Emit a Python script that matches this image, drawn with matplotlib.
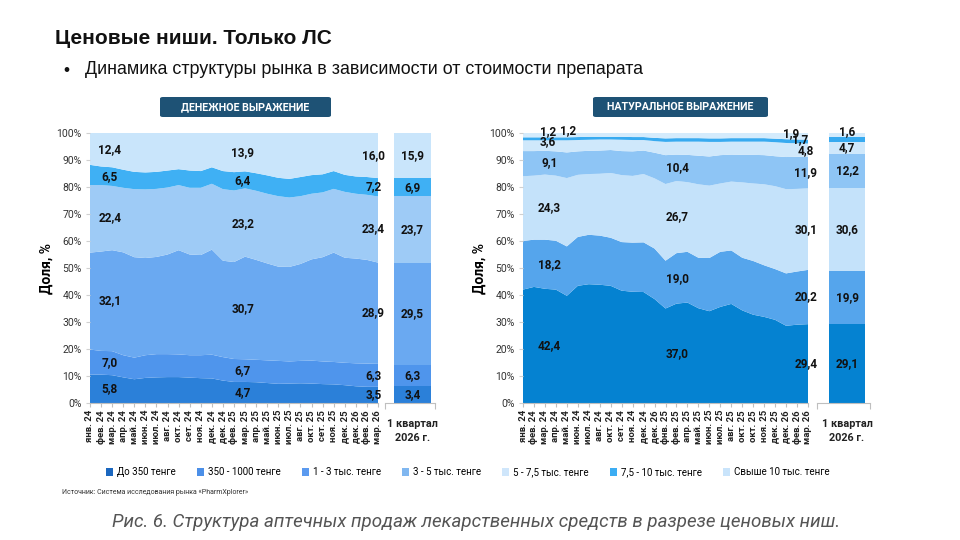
import numpy as np
import matplotlib
matplotlib.use("Agg")
import matplotlib.pyplot as plt
from matplotlib.patches import Patch, FancyBboxPatch

plt.rcParams['font.family'] = ['Roboto', 'DejaVu Sans']

# ---- data ----
series = ["До 350 тенге", "350 - 1000 тенге", "1 - 3 тыс. тенге", "3 - 5 тыс. тенге",
          "5 - 7,5 тыс. тенге", "7,5 - 10 тыс. тенге", "Свыше 10 тыс. тенге"]

den_months = ['янв. 24', 'фев. 24', 'мар. 24', 'апр. 24', 'май. 24', 'июн. 24', 'июл. 24',
              'авг. 24', 'окт. 24', 'сет. 24', 'ноя. 24', 'дек. 24', 'дек. 24', 'фев. 25',
              'мар. 25', 'апр. 25', 'май. 25', 'июн. 25', 'июл. 25', 'авг. 25', 'окт. 25',
              'сет. 25', 'ноя. 25', 'дек. 25', 'дек. 26', 'фев. 26', 'мар. 26']
nat_months = ['янв. 24', 'фев. 24', 'мар. 24', 'апр. 24', 'май. 24', 'июн. 24', 'июл. 24',
              'авг. 24', 'окт. 24', 'сет. 24', 'ноя. 24', 'дек. 24', 'дек. 26', 'фнв. 25',
              'фев. 25', 'апр. 25', 'май. 25', 'июн. 25', 'июл. 25', 'авг. 25', 'окт. 25',
              'окт. 25', 'ноя. 25', 'дек. 25', 'дек. 26', 'фев. 26', 'мар. 26']
quarter_label = "1 квартал\n2026 г."

# upper edge (cumulative %) of each layer, money terms (6 layers drawn)
den_edges = [
    [10.5, 10.5, 10.3, 9.5, 8.8, 9.3, 9.5, 9.6, 9.6, 9.4, 9.2, 9.1, 8.3, 7.8, 7.8, 7.7, 7.4,
     7.1, 7.2, 7.3, 7.2, 7.0, 6.9, 6.6, 6.2, 6.0, 6.0],
    [19.8, 19.3, 19.2, 17.7, 16.8, 17.7, 18.1, 18.1, 18.0, 17.7, 17.7, 17.9, 17.0, 16.3, 16.2,
     16.0, 15.8, 15.6, 15.4, 15.6, 15.7, 15.4, 15.2, 14.9, 14.7, 14.6, 14.5],
    [55.7, 56.1, 56.6, 55.8, 54.0, 53.7, 54.1, 55.0, 56.6, 55.0, 54.8, 56.8, 52.7, 52.2, 54.2,
     53.0, 51.7, 50.5, 50.4, 51.5, 53.2, 54.0, 55.7, 53.8, 53.5, 53.0, 52.0],
    [80.7, 80.7, 80.4, 79.7, 79.2, 79.1, 79.3, 79.8, 80.7, 79.7, 79.7, 81.2, 79.2, 78.7, 79.5,
     78.6, 77.5, 76.6, 76.1, 76.6, 77.5, 78.0, 79.3, 78.2, 77.5, 77.1, 76.5],
    [88.2, 87.6, 87.3, 86.4, 85.6, 85.4, 85.6, 86.1, 86.6, 86.1, 85.9, 87.3, 85.9, 85.5, 85.8,
     85.1, 84.3, 83.4, 83.0, 83.7, 84.4, 84.7, 85.9, 84.5, 83.9, 83.7, 83.3],
    [100.0] * 27,
]
den_q_edges = [6.4, 14.2, 52.0, 76.5, 83.3, 100.0]

# upper edge (cumulative %) of each layer, volume terms (7 layers)
nat_edges = [
    [42.0, 43.0, 42.3, 42.0, 39.7, 43.4, 44.0, 43.8, 43.4, 41.6, 41.2, 41.1, 38.5, 35.0, 36.8,
     37.2, 35.1, 34.0, 35.6, 36.7, 34.3, 32.7, 31.9, 30.8, 28.6, 29.0, 29.2],
    [60.0, 60.5, 60.5, 60.1, 58.0, 61.5, 62.3, 62.0, 61.2, 59.6, 59.4, 59.5, 57.2, 52.7, 55.5,
     56.0, 53.8, 53.7, 56.0, 56.5, 53.8, 52.6, 51.0, 49.6, 48.0, 48.7, 49.3],
    [84.0, 84.2, 84.6, 84.2, 83.3, 84.5, 84.8, 84.9, 85.2, 84.4, 84.1, 84.8, 83.2, 81.1, 82.2,
     81.8, 81.0, 80.5, 81.3, 82.0, 81.7, 81.3, 81.0, 80.3, 79.2, 79.3, 79.5],
    [93.3, 93.3, 93.4, 93.2, 92.8, 93.2, 93.4, 93.5, 93.7, 93.3, 93.2, 93.5, 92.7, 91.8, 92.0,
     91.9, 91.6, 91.3, 91.8, 92.0, 91.9, 91.9, 91.8, 91.4, 91.1, 91.2, 91.2],
    [97.3, 97.3, 97.3, 97.3, 97.3, 97.4, 97.5, 97.6, 97.6, 97.5, 97.4, 97.4, 97.0, 96.7, 96.8,
     96.8, 96.8, 96.7, 96.7, 96.8, 96.8, 96.8, 96.8, 96.6, 96.3, 96.2, 96.1],
    [98.4, 98.4, 98.4, 98.4, 98.4, 98.5, 98.6, 98.6, 98.6, 98.6, 98.5, 98.5, 98.2, 98.0, 98.1,
     98.1, 98.1, 98.0, 98.0, 98.1, 98.1, 98.1, 98.1, 97.9, 97.7, 97.6, 97.5],
    [100.0] * 27,
]
nat_q_edges = [29.3, 49.0, 79.8, 92.4, 96.8, 98.4, 100.0]

# value labels written on the chart
den_lbl_start = [5.8, 7.0, 32.1, 22.4, 6.5, 12.4]
den_lbl_mid = [4.7, 6.7, 30.7, 23.2, 6.4, 13.9]
den_lbl_end = [3.5, 6.3, 28.9, 23.4, 7.2, 16.0]
den_lbl_q = [3.4, 6.3, 29.5, 23.7, 6.9, 15.9]

nat_lbl_start = [42.4, 18.2, 24.3, 9.1, 3.6, 1.2, 1.2]
nat_lbl_mid = [37.0, 19.0, 26.7, 10.4]
nat_lbl_end = [29.4, 20.2, 30.1, 11.9, 4.8, 1.7, 1.9]
nat_lbl_q = [29.1, 19.9, 30.6, 12.2, 4.7, 1.6]

# ---- styling ----
den_colors = ['#2b80d9', '#4f95ec', '#6aa9f1', '#9ecbf6', '#3fb0f4', '#c9e5fb']
nat_colors = ['#0582d1', '#55a5ec', '#c4e2fa', '#8ec5f5', '#cfe8fb', '#37aaf0', '#d4ebfc']
legend_colors = ['#1b67bf', '#4b8fe8', '#5b9aef', '#80b7f0', '#cfe6fb', '#3cadf3', '#c9e4fb']
spine_c = '#bfbfbf'
lbl_kw = dict(fontsize=8.5, fontweight='bold', color='#111111', ha='center', va='center')


def fmt(v):
    return f"{v:.1f}".replace('.', ',')


def mids(edges, x):
    e = np.array(edges)
    x_idx = np.arange(e.shape[1])
    tops = np.array([np.interp(x, x_idx, row) for row in e])
    bots = np.concatenate([[0], tops[:-1]])
    return (tops + bots) / 2


def main_axes(rect, edges, colors, months):
    ax = fig.add_axes(rect)
    e = np.array(edges)
    shares = np.diff(np.vstack([np.zeros(e.shape[1]), e]), axis=0)
    x = np.arange(e.shape[1])
    ax.stackplot(x, shares, colors=colors, linewidth=0)
    ax.set_xlim(0, len(x) - 1)
    ax.set_ylim(0, 100)
    ax.set_xticks(x)
    ax.set_xticklabels(months, rotation=90, fontsize=6.8, fontweight='bold', color='#222222')
    ax.set_yticks(np.arange(0, 101, 10))
    ax.set_yticklabels([f"{v}%" for v in range(0, 101, 10)], fontsize=7.5, color='#333333')
    for s in ['top', 'right', 'left']:
        ax.spines[s].set_visible(False)
    ax.spines['bottom'].set_color(spine_c)
    ax.tick_params(axis='x', length=3, color=spine_c, pad=2)
    ax.tick_params(axis='y', length=3, color='#d0d0d0', pad=3)
    ax.set_ylabel("Доля, %", fontsize=10, fontweight='bold', labelpad=2)
    return ax


def quarter_axes(rect, edges, colors, xlim):
    ax = fig.add_axes(rect)
    e = np.array(edges)
    shares = np.diff(np.concatenate([[0], e]))
    bottom = 0
    for s, c in zip(shares, colors):
        ax.bar(0, s, bottom=bottom, width=1.0, color=c, linewidth=0)
        bottom += s
    ax.set_xlim(*xlim)
    ax.set_ylim(0, 100)
    ax.set_xticks(list(xlim))
    ax.set_xticklabels(['', ''])
    ax.set_yticks([])
    for s in ['top', 'right', 'left']:
        ax.spines[s].set_visible(False)
    ax.spines['bottom'].set_color(spine_c)
    ax.tick_params(axis='x', length=4, color=spine_c)
    ax.text(0, -6, quarter_label, fontsize=7.8, fontweight='bold', ha='center', va='top',
            linespacing=1.5, color='#222222')
    return ax


fig = plt.figure(figsize=(9.6, 5.4), dpi=100)

# ---- money terms ----
ax1 = main_axes([90 / 960, 1 - 403 / 540, 288 / 960, 270 / 540], den_edges, den_colors, den_months)
for xpos, vals in [(1.8, den_lbl_start), (13.8, den_lbl_mid), (25.6, den_lbl_end)]:
    ys = mids(den_edges, min(xpos, 26))
    for v, y in zip(vals, ys):
        ax1.text(xpos, y, fmt(v), **lbl_kw)

aq1 = quarter_axes([385 / 960, 1 - 403 / 540, 50 / 960, 270 / 540], den_q_edges, den_colors,
                   (-0.743, 0.608))
qm = mids([[v] for v in den_q_edges], 0)
for v, y in zip(den_lbl_q, qm):
    aq1.text(0, y, fmt(v), **lbl_kw)

# ---- volume terms ----
ax2 = main_axes([523 / 960, 1 - 403 / 540, 285 / 960, 270 / 540], nat_edges, nat_colors, nat_months)
ys = mids(nat_edges, 2.4)
for v, y in zip(nat_lbl_start[:4], ys[:4]):
    ax2.text(2.4, y, fmt(v), **lbl_kw)
small_start = [(2.3, 96.9), (2.3, 100.4), (4.1, 100.8)]
for v, (xp, yp) in zip(nat_lbl_start[4:], small_start):
    ax2.text(xp, yp, fmt(v), clip_on=False, **lbl_kw)
ys = mids(nat_edges, 14.1)
for v, y in zip(nat_lbl_mid, ys[:4]):
    ax2.text(14.1, y, fmt(v), **lbl_kw)
ys = mids(nat_edges, 26)
for v, y in zip(nat_lbl_end[:5], ys[:5]):
    ax2.text(25.8, y, fmt(v), **lbl_kw)
small_end = [(25.3, 97.4), (24.5, 99.9)]
for v, (xp, yp) in zip(nat_lbl_end[5:], small_end):
    ax2.text(xp, yp, fmt(v), clip_on=False, **lbl_kw)

aq2 = quarter_axes([817 / 960, 1 - 403 / 540, 53 / 960, 270 / 540], nat_q_edges, nat_colors,
                   (-0.857, 0.657))
qm = mids([[v] for v in nat_q_edges], 0)
for v, y in zip(nat_lbl_q[:5], qm[:5]):
    aq2.text(0, y, fmt(v), **lbl_kw)
aq2.text(0, 100.4, fmt(nat_lbl_q[5]), clip_on=False, **lbl_kw)

# ---- header texts ----
fig.text(55 / 960, 1 - 38 / 540, "Ценовые ниши. Только ЛС", fontsize=15, fontweight='bold',
         family=['Liberation Sans', 'DejaVu Sans'], va='center', ha='left', color='#111111')
fig.text(63 / 960, 1 - 70 / 540, "•", fontsize=12.5, family=['Liberation Sans', 'DejaVu Sans'],
         va='center', ha='left', color='#111111')
fig.text(85 / 960, 1 - 70 / 540, "Динамика структуры рынка в зависимости от стоимости препарата",
         fontsize=12.9, family=['Liberation Sans', 'DejaVu Sans'], va='center', ha='left',
         color='#111111')

for x0, x1, txt in [(160, 331, "ДЕНЕЖНОЕ ВЫРАЖЕНИЕ"), (593, 768, "НАТУРАЛЬНОЕ ВЫРАЖЕНИЕ")]:
    box = FancyBboxPatch((x0 / 960, 1 - 117 / 540), (x1 - x0) / 960, 20 / 540,
                         boxstyle="round,pad=0,rounding_size=0.003", transform=fig.transFigure,
                         facecolor='#1e5275', edgecolor='none')
    fig.patches.append(box)
    fig.text((x0 + x1) / 2 / 960, 1 - 107 / 540, txt, fontsize=7.7, fontweight='bold',
             color='white', ha='center', va='center')

# ---- legend ----
handles = [Patch(facecolor=c, edgecolor='none') for c in legend_colors]
fig.legend(handles, series, loc='center', bbox_to_anchor=(468 / 960, 1 - 472 / 540), ncol=7,
           frameon=False, fontsize=7, handlelength=0.7, handleheight=0.9, handletextpad=0.4,
           columnspacing=2.2)

fig.text(62 / 960, 1 - 493 / 540, "Источник: Система исследования рынка «PharmXplorer»",
         fontsize=5, color='#333333', va='center', ha='left')
fig.text(476 / 960, 1 - 522 / 540,
         "Рис. 6. Структура аптечных продаж лекарственных средств в разрезе ценовых ниш.",
         fontsize=13.5, style='italic', color='#555555', va='center', ha='center')

fig.savefig("out.png", dpi=100)
